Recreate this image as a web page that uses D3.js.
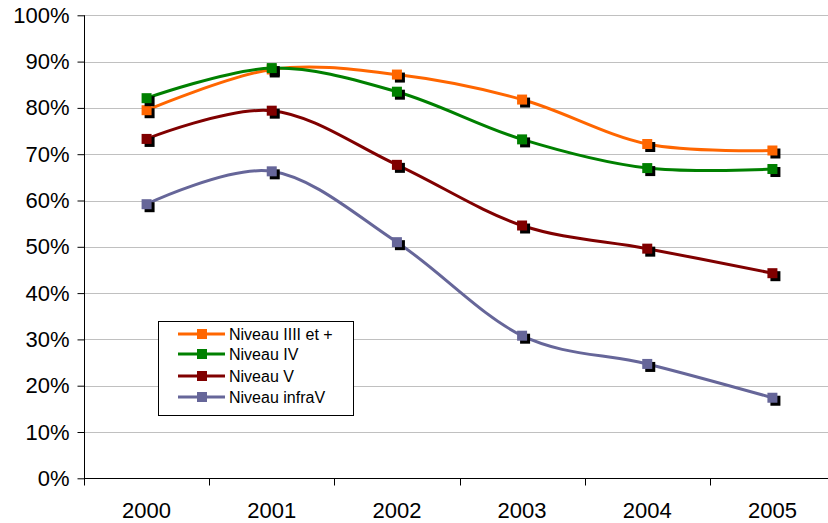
<!DOCTYPE html>
<html><head><meta charset="utf-8">
<script src="https://cdn.jsdelivr.net/npm/d3@7"></script>
<style>body{margin:0;background:#fff}svg{display:block}text{font-family:"Liberation Sans",Arial,sans-serif;fill:#000}</style>
</head><body>
<svg id="c" width="828" height="523"></svg>
<script>
const years = ["2000","2001","2002","2003","2004","2005"];
const seriesNames = ["Niveau IIII et +","Niveau IV","Niveau V","Niveau infraV"];
const seriesColors = ["#FF6600","#008000","#800000","#666699"];
const valsIIII = [0.795,0.883,0.872,0.818,0.722,0.708];
const valsIV = [0.821,0.886,0.835,0.732,0.670,0.668];
const valsV = [0.733,0.794,0.677,0.546,0.496,0.443];
const valsInfra = [0.592,0.663,0.510,0.308,0.247,0.174];
const yTicks = [0,0.1,0.2,0.3,0.4,0.5,0.6,0.7,0.8,0.9,1.0];

const allVals = [valsIIII, valsIV, valsV, valsInfra];
const svg = d3.select("#c");
const x = d3.scaleBand().domain(years).range([84, 835]).padding(0);
const y = d3.scaleLinear().domain([0,1]).range([478.3, 15.3]);
const cx = d => x(d) + x.bandwidth()/2;

// gridlines
svg.append("g").selectAll("line").data(yTicks.filter(t=>t>0)).join("line")
  .attr("x1",84).attr("x2",835).attr("y1",d=>Math.round(y(d))+0.5).attr("y2",d=>Math.round(y(d))+0.5)
  .attr("stroke","#c0c0c0").attr("stroke-width",1);

// y axis
const yAxis = d3.axisLeft(y).tickValues(yTicks).tickFormat(d=>Math.round(d*100)+"%").tickSize(7).tickPadding(8);
const gy = svg.append("g").attr("transform","translate(84.5,0)").call(yAxis);
gy.selectAll("text").style("font-size","22px");
gy.selectAll("line,path").attr("stroke","#000");
gy.select(".domain").attr("d","M0,"+y(1)+"V"+y(0));

// x axis
const xAxis = d3.axisBottom(x).tickSize(0).tickPadding(0);
const gx = svg.append("g").attr("transform","translate(0,478.5)").call(xAxis);
gx.select(".domain").attr("d","M84,0H835").attr("stroke","#000");
gx.selectAll("text").style("font-size","22px").attr("y",39).attr("dy","0");
// ticks at band boundaries
const bounds = years.map(d=>x(d)).concat([x(years[years.length-1])+x.bandwidth()]);
gx.append("g").selectAll("line").data(bounds).join("line")
  .attr("x1",d=>Math.round(d)+0.5).attr("x2",d=>Math.round(d)+0.5).attr("y1",0).attr("y2",7).attr("stroke","#000");

// series
const line = d3.line().x((d,i)=>cx(years[i])).y(d=>y(d)).curve(d3.curveCatmullRom.alpha(0));
const ms = 10;
allVals.forEach((vals,si)=>{
  const g = svg.append("g");
  g.append("path").attr("d",line(vals)).attr("fill","none").attr("stroke",seriesColors[si]).attr("stroke-width",3);
  g.selectAll("rect.s").data(vals).join("rect").attr("class","s")
    .attr("x",(d,i)=>cx(years[i])-ms/2+3).attr("y",d=>y(d)-ms/2+3).attr("width",ms).attr("height",ms).attr("fill","#000");
  g.selectAll("rect.m").data(vals).join("rect").attr("class","m")
    .attr("x",(d,i)=>cx(years[i])-ms/2).attr("y",d=>y(d)-ms/2).attr("width",ms).attr("height",ms).attr("fill",seriesColors[si]);
});

// legend
const lg = svg.append("g");
lg.append("rect").attr("x",158.5).attr("y",321.5).attr("width",195).attr("height",94).attr("fill","#fff").attr("stroke","#000").attr("stroke-width",1);
const ly = [334,354,376,397];
seriesNames.forEach((n,i)=>{
  lg.append("line").attr("x1",178).attr("x2",225).attr("y1",ly[i]).attr("y2",ly[i]).attr("stroke",seriesColors[i]).attr("stroke-width",3);
  lg.append("rect").attr("x",202-5).attr("y",ly[i]-5).attr("width",10).attr("height",10).attr("fill",seriesColors[i]);
  lg.append("text").attr("x",229).attr("y",ly[i]).attr("dy","0.36em").style("font-size","16px").text(n);
});
</script>
</body></html>
